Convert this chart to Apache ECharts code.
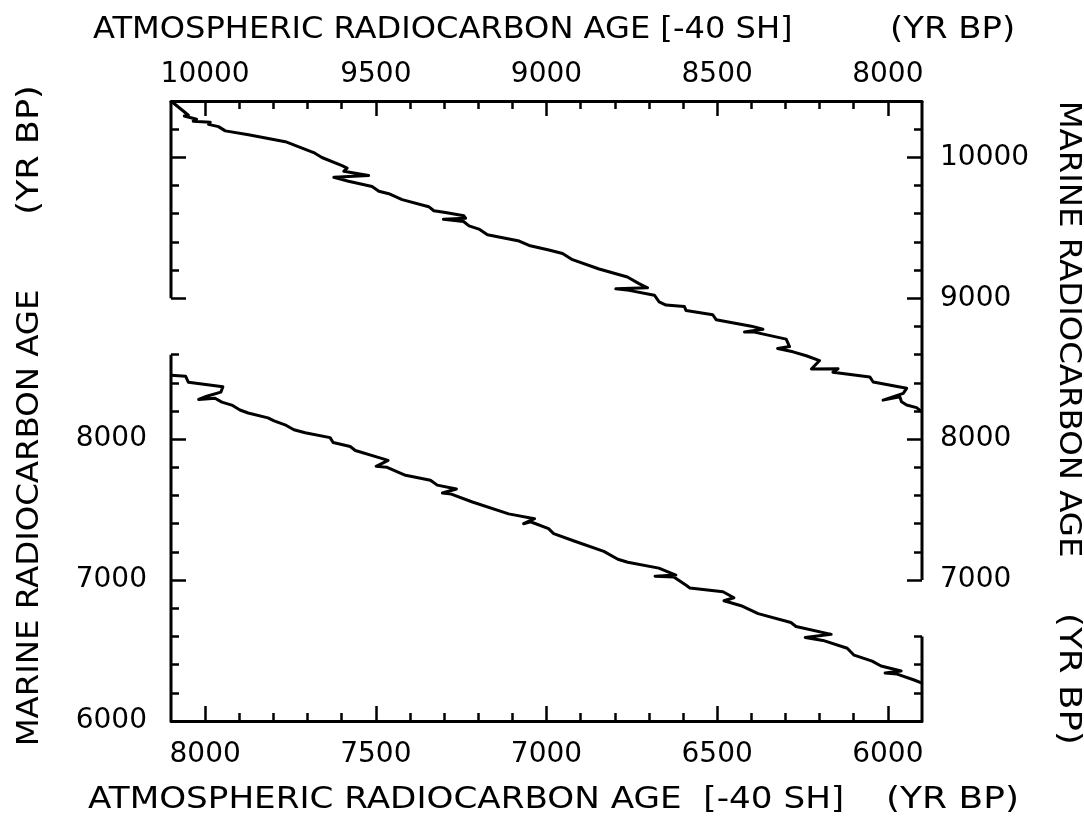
<!DOCTYPE html>
<html>
<head>
<meta charset="utf-8">
<script src="https://cdn.jsdelivr.net/npm/echarts@6/dist/echarts.min.js"></script>
<style>
html,body{margin:0;padding:0;background:#fff;}
#chart{width:1084px;height:819px;}
</style>
</head>
<body>
<div id="chart"></div>
<script>
// ---- data ----
// lower curve: bottom axis (atmospheric 14C age) vs left axis (marine 14C age)
const lowerAtm = [8100, 8057, 8049, 7948, 7954, 7995, 8019, 7971, 7951, 7922, 7898, 7874, 7816, 7798, 7766, 7740, 7707, 7634, 7625, 7575, 7560, 7493, 7464, 7499, 7467, 7413, 7340, 7320, 7264, 7305, 7279, 7217, 7111, 7035, 7067, 7047, 6994, 6979, 6915, 6832, 6791, 6762, 6671, 6621, 6682, 6627, 6592, 6580, 6483, 6451, 6480, 6430, 6380, 6284, 6269, 6166, 6242, 6190, 6119, 6099, 6046, 6020, 5961, 6008, 5973, 5923, 5900];
const lowerMar = [8453, 8446, 8404, 8372, 8334, 8305, 8282, 8291, 8263, 8242, 8207, 8186, 8151, 8130, 8102, 8067, 8046, 8011, 7976, 7948, 7920, 7871, 7850, 7807, 7800, 7744, 7709, 7674, 7646, 7618, 7610, 7554, 7470, 7436, 7400, 7414, 7365, 7330, 7274, 7204, 7148, 7127, 7085, 7036, 7028, 7022, 6965, 6944, 6917, 6875, 6853, 6818, 6762, 6699, 6671, 6615, 6593, 6572, 6516, 6467, 6425, 6390, 6355, 6340, 6333, 6291, 6268];
// upper curve: top axis (atmospheric 14C age) vs right axis (marine 14C age)
const upperAtm = [10100, 10049, 10061, 10025, 10035, 9985, 9990, 9961, 9941, 9873, 9765, 9682, 9658, 9599, 9584, 9594, 9521, 9623, 9580, 9511, 9491, 9462, 9423, 9345, 9330, 9296, 9242, 9237, 9302, 9243, 9227, 9198, 9173, 9080, 9051, 8993, 8953, 8924, 8846, 8763, 8729, 8704, 8797, 8758, 8684, 8670, 8650, 8596, 8591, 8513, 8503, 8400, 8366, 8420, 8391, 8298, 8288, 8323, 8278, 8239, 8200, 8224, 8146, 8161, 8053, 8043, 7945, 7955, 8014, 7965, 7960, 7945, 7916, 7900];
const upperMar = [10400, 10299, 10294, 10271, 10257, 10249, 10234, 10218, 10188, 10160, 10111, 10034, 9999, 9941, 9924, 9901, 9871, 9858, 9830, 9793, 9760, 9742, 9700, 9650, 9621, 9608, 9585, 9568, 9560, 9545, 9514, 9491, 9451, 9406, 9375, 9343, 9318, 9274, 9208, 9151, 9104, 9074, 9067, 9056, 9022, 8975, 8952, 8941, 8913, 8883, 8848, 8802, 8780, 8760, 8760, 8710, 8657, 8643, 8620, 8592, 8558, 8498, 8500, 8475, 8442, 8406, 8361, 8325, 8277, 8301, 8266, 8243, 8224, 8194];

// axis ranges
const bottomRange = [5900, 8100];
const topRange = [7900, 10100];
const yRange = [6000, 10400];

// tick labels
const bottomLabels = [6000, 6500, 7000, 7500, 8000];
const topLabels = [8000, 8500, 9000, 9500, 10000];
const leftLabels = [6000, 7000, 8000];
const rightLabels = [7000, 8000, 9000, 10000];

// drawn spans of the broken vertical axes
const leftAxisSpans = [[6000, 8600], [9000, 10400]];
const rightAxisSpans = [[6000, 6600], [7000, 10400]];

// titles
const xTitle = 'ATMOSPHERIC RADIOCARBON AGE [-40 SH]';
const xTitleBottom = 'ATMOSPHERIC RADIOCARBON AGE  [-40 SH]';
const yTitle = 'MARINE RADIOCARBON AGE';
const unitTitle = '(YR BP)';

// ---- helpers ----
function range(a, b, step) { const r = []; for (let v = a; v <= b; v += step) r.push(v); return r; }
function inSpans(v, spans) { return spans.some(s => v >= s[0] && v <= s[1]); }
const zip = (a, b) => a.map((v, i) => [v, b[i]]);

const xMinorBottom = range(6000, 8000, 100).filter(v => v % 500 !== 0);
const xMinorTop = range(8000, 10000, 100).filter(v => v % 500 !== 0);
const leftMajor = range(6000, 10400, 1000).filter(v => inSpans(v, leftAxisSpans));
const leftMinor = range(6200, 10400, 200).filter(v => v % 1000 !== 0 && inSpans(v, leftAxisSpans));
const rightMajor = range(6000, 10400, 1000).filter(v => inSpans(v, rightAxisSpans));
const rightMinor = range(6200, 10400, 200).filter(v => v % 1000 !== 0 && inSpans(v, rightAxisSpans));

const FONT = 'DejaVu Sans';
const INK = '#000';
const LW = 3;
const plain = v => String(v);

function xAxisDef(pos, rng, major, labels, showLine, isMinor) {
  return {
    type: 'value', position: pos, min: rng[0], max: rng[1], inverse: true,
    axisLine: { show: showLine, onZero: false, lineStyle: { color: INK, width: 3 } },
    axisTick: { show: true, inside: true, length: isMinor ? 8 : 15, customValues: major,
      lineStyle: { color: INK, width: 2.5 } },
    axisLabel: { show: !isMinor, customValues: labels || [], formatter: plain, color: INK, fontFamily: FONT, fontSize: 28,
      margin: pos === 'top' ? 12 : 20 },
    splitLine: { show: false }
  };
}
function yAxisDef(pos, major, labels, isMinor) {
  return {
    type: 'value', position: pos, min: yRange[0], max: yRange[1],
    axisLine: { show: false },
    axisTick: { show: true, inside: true, length: isMinor ? 8 : 15, customValues: major,
      lineStyle: { color: INK, width: 2.5 } },
    axisLabel: { show: !isMinor, customValues: labels || [], formatter: plain, color: INK, fontFamily: FONT, fontSize: 28,
      margin: pos === 'left' ? 24 : 18 },
    splitLine: { show: false }
  };
}

const axisSegSeries = [];
leftAxisSpans.forEach(s => axisSegSeries.push({
  type: 'line', xAxisIndex: 0, yAxisIndex: 0, data: [[bottomRange[1], s[0]], [bottomRange[1], s[1]]],
  symbol: 'none', clip: false, silent: true, lineStyle: { color: INK, width: 3 }
}));
rightAxisSpans.forEach(s => axisSegSeries.push({
  type: 'line', xAxisIndex: 0, yAxisIndex: 0, data: [[bottomRange[0], s[0]], [bottomRange[0], s[1]]],
  symbol: 'none', clip: false, silent: true, lineStyle: { color: INK, width: 3 }
}));

function title(text, x, y, rot, align, sx) {
  return { type: 'text', x: x, y: y, rotation: rot, scaleX: sx,
    style: { text: text, font: '30px "DejaVu Sans"', fill: INK, align: align, verticalAlign: 'middle' } };
}

const chart = echarts.init(document.getElementById('chart'));
chart.setOption({
  backgroundColor: '#fff',
  animation: false,
  grid: { left: 171, right: 162, top: 101, bottom: 98, containLabel: false },
  xAxis: [
    xAxisDef('bottom', bottomRange, bottomLabels, bottomLabels, true, false),
    xAxisDef('bottom', bottomRange, xMinorBottom, null, false, true),
    xAxisDef('top', topRange, topLabels, topLabels, true, false),
    xAxisDef('top', topRange, xMinorTop, null, false, true)
  ],
  yAxis: [
    yAxisDef('left', leftMajor, leftLabels, false),
    yAxisDef('left', leftMinor, null, true),
    yAxisDef('right', rightMajor, rightLabels, false),
    yAxisDef('right', rightMinor, null, true)
  ],
  series: [
    { name: 'lower', type: 'line', xAxisIndex: 0, yAxisIndex: 0, data: zip(lowerAtm, lowerMar),
      symbol: 'none', clip: false, lineStyle: { color: INK, width: LW, join: 'round' } },
    { name: 'upper', type: 'line', xAxisIndex: 2, yAxisIndex: 2, data: zip(upperAtm, upperMar),
      symbol: 'none', clip: false, lineStyle: { color: INK, width: LW, join: 'round' } }
  ].concat(axisSegSeries),
  graphic: [
    title(xTitle, 93, 30, 0, 'left', 1.07),
    title(unitTitle, 890, 30, 0, 'left', 1.13),
    title(xTitleBottom, 88, 800, 0, 'left', 1.14),
    title(unitTitle, 886, 800, 0, 'left', 1.2),
    title(yTitle, 30, 518, Math.PI / 2, 'center', 1.08),
    title(unitTitle, 30, 150, Math.PI / 2, 'center', 1.17),
    title(yTitle, 1068, 329, -Math.PI / 2, 'center', 1.08),
    title(unitTitle, 1068, 679, -Math.PI / 2, 'center', 1.19)
  ]
});
</script>
</body>
</html>
